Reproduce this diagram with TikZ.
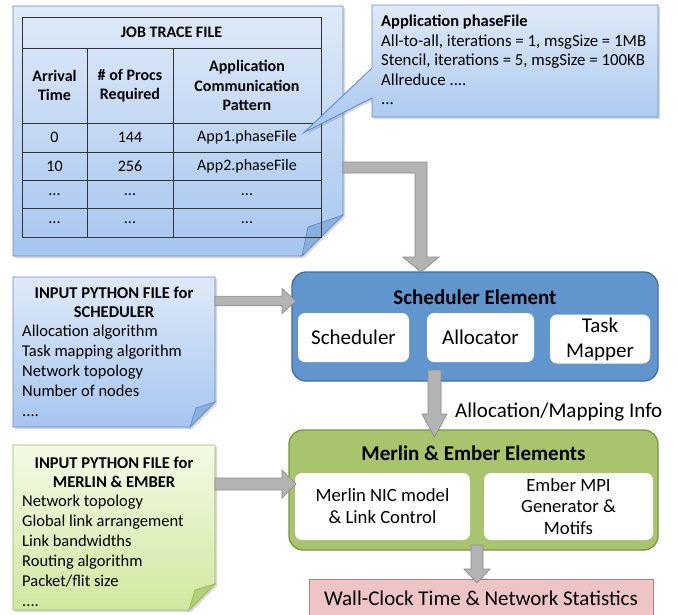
\documentclass[tikz,border=0pt]{standalone}
\usepackage{fontspec}
\setmainfont{Carlito}
\usetikzlibrary{calc,shadows}

\definecolor{noteTop}{RGB}{223,234,248}
\definecolor{noteBot}{RGB}{166,198,240}
\definecolor{noteLine}{RGB}{96,140,205}
\definecolor{noteFold}{RGB}{140,176,222}
\definecolor{gnoteTop}{RGB}{244,250,230}
\definecolor{gnoteBot}{RGB}{208,232,160}
\definecolor{gnoteLine}{RGB}{150,185,90}
\definecolor{gnoteFold}{RGB}{178,208,120}
\definecolor{schedFill}{RGB}{96,150,205}
\definecolor{schedLine}{RGB}{63,110,158}
\definecolor{merlinFill}{RGB}{168,196,108}
\definecolor{merlinLine}{RGB}{122,149,62}
\definecolor{wallFill}{RGB}{239,196,196}
\definecolor{wallLine}{RGB}{194,122,122}
\definecolor{arrowFill}{RGB}{179,179,179}
\definecolor{arrowLine}{RGB}{140,140,140}

% folded-corner note around a named placeholder node
\newcommand\foldnote[3]{%
  \path[#3] (#1.north west) -- (#1.north east) -- ($(#1.south east)+(0,-#2)$)
    -- ($(#1.south east)+(-#2,0)$) -- (#1.south west) -- cycle;}
% the turned-over flap: node, fold size, inner corner offset, style
\newcommand\foldflap[4]{%
  \filldraw[#4] ($(#1.south east)+(0,-#2)$) -- ($(#1.south east)+(#3)$)
    -- ($(#1.south east)+(-#2,0)$) -- cycle;}

% horizontal block arrow: start, tip, shaft half-width, head half-width, head length
\newcommand\blockH[5]{%
  \draw[blockarrow] let \p1=(#1), \p2=(#2) in
    (\x1,\y2+#3) -- (\x2-#5,\y2+#3) -- (\x2-#5,\y2+#4) -- (\x2,\y2)
    -- (\x2-#5,\y2-#4) -- (\x2-#5,\y2-#3) -- (\x1,\y2-#3) -- cycle;}
% vertical (downward) block arrow
\newcommand\blockV[5]{%
  \draw[blockarrow] let \p1=(#1), \p2=(#2) in
    (\x2-#3,\y1) -- (\x2+#3,\y1) -- (\x2+#3,\y2+#5) -- (\x2+#4,\y2+#5) -- (\x2,\y2)
    -- (\x2-#4,\y2+#5) -- (\x2-#3,\y2+#5) -- cycle;}

\begin{document}
\begin{tikzpicture}[x=1pt,y=-1pt,
  holder/.style={inner sep=0pt, outer sep=0pt, anchor=north west},
  bluenote/.style={draw=noteLine, line width=0.9pt, top color=noteTop, bottom color=noteBot,
    drop shadow={shadow xshift=2pt, shadow yshift=-2pt, opacity=0.25, fill=black!60}},
  greennote/.style={draw=gnoteLine, line width=0.9pt, top color=gnoteTop, bottom color=gnoteBot,
    drop shadow={shadow xshift=2pt, shadow yshift=-2pt, opacity=0.25, fill=black!60}},
  tableline/.style={draw=black!80, line width=0.9pt},
  cell/.style={inner sep=0pt, align=center, font=\fontsize{16}{19.5}\selectfont},
  hcell/.style={cell, font=\fontsize{16}{19.5}\selectfont\bfseries},
  body/.style={inner sep=0pt, align=left, anchor=north west, font=\fontsize{16.5}{20}\selectfont},
  head/.style={inner sep=0pt, align=center, font=\fontsize{16.5}{19.5}\selectfont\bfseries},
  outerbox/.style={holder, rounded corners=14pt, line width=1.3pt},
  innerbox/.style={fill=white, rounded corners=7pt, inner sep=0pt, align=center,
    font=\fontsize{21}{25}\selectfont},
  boxtitle/.style={inner sep=0pt, font=\fontsize{21}{25}\selectfont\bfseries},
  blockarrow/.style={fill=arrowFill, draw=arrowLine, line width=0.7pt, line join=miter},
]
\useasboundingbox (0,0) rectangle (678,614);

% ---------- job trace file ----------
\node[holder, minimum width=330pt, minimum height=250pt] (job) at (13,6) {};
\foldnote{job}{41}{bluenote}
\foldflap{job}{41}{-35,-29}{fill=noteFold, draw=noteLine, line width=0.7pt}

\draw[tableline] (22,17) rectangle (321,237);
\foreach \yy in {48,123,152,180,208} \draw[tableline] (22,\yy) -- (321,\yy);
\foreach \xx in {87,173} \draw[tableline] (\xx,48) -- (\xx,237);

\node[hcell] (ttitle) at (171.5,32.5) {JOB TRACE FILE};
\node[hcell] (harr) at (54.5,85.5) {Arrival\\Time};
\node[hcell] (hproc) at (130,85.5) {\# of Procs\\Required};
\node[hcell] (hpat) at (247,85.5) {Application\\Communication\\Pattern};
\node[cell] (r1a) at (54.5,137.5) {0};
\node[cell] (r1b) at (130,137.5) {144};
\node[cell] (app1) at (247,137.5) {App1.phaseFile};
\node[cell] (r2a) at (54.5,166) {10};
\node[cell] (r2b) at (130,166) {256};
\node[cell] (app2) at (247,166) {App2.phaseFile};
\node[cell] (r3a) at (54.5,195) {...};
\node[cell] (r3b) at (130,195) {...};
\node[cell] (r3c) at (247,195) {...};
\node[cell] (r4a) at (54.5,223) {...};
\node[cell] (r4b) at (130,223) {...};
\node[cell] (r4c) at (247,223) {...};

% ---------- phase file callout ----------
\node[holder, minimum width=286pt, minimum height=112pt] (phase) at (372,5) {};
\coordinate (ptip) at ($(app1.east)+(7,-5)$);
\path[bluenote] (phase.north west) -- (phase.north east) -- (phase.south east)
  -- (phase.south west) -- ($(phase.north west)+(0,93)$) -- (ptip)
  -- ($(phase.north west)+(0,63)$) -- cycle;
\node[body, font=\fontsize{16.8}{19.5}\selectfont] (phasetxt) at (381,15)
  {\fontsize{16.5}{19.5}\selectfont\textbf{Application phaseFile}\\
   All-to-all, iterations = 1, msgSize = 1MB\\
   Stencil, iterations = 5, msgSize = 100KB\\
   Allreduce ....\\
   ...};

% ---------- scheduler python input ----------
\node[holder, minimum width=202pt, minimum height=150pt] (pys) at (13,277) {};
\foldnote{pys}{25}{bluenote}
\foldflap{pys}{25}{-19,-19}{fill=noteFold, draw=noteLine, line width=0.7pt}
\node[head] (pystitle) at (114,302.5) {INPUT PYTHON FILE for\\SCHEDULER};
\node[body] (pysbody) at (22,325) {Allocation algorithm\\Task mapping algorithm\\Network topology\\Number of nodes\\....};

% ---------- merlin/ember python input ----------
\node[holder, minimum width=202pt, minimum height=165pt] (pyme) at (13,445) {};
\foldnote{pyme}{26}{greennote}
\foldflap{pyme}{26}{-20,-20}{fill=gnoteFold, draw=gnoteLine, line width=0.7pt}
\node[head] (pymetitle) at (114,472.5) {INPUT PYTHON FILE for\\MERLIN \& EMBER};
\node[body] (pymebody) at (22,495) {Network topology\\Global link arrangement\\Link bandwidths\\Routing algorithm\\Packet/flit size\\....};

% ---------- scheduler element ----------
\node[outerbox, fill=schedFill, draw=schedLine, minimum width=366pt, minimum height=109pt] (sched) at (292,272) {};
\node[boxtitle] (schedtitle) at (475,297) {Scheduler Element};
\node[innerbox, minimum width=111pt, minimum height=49pt] (scheduler) at (353.5,337.5) {Scheduler};
\node[innerbox, minimum width=107pt, minimum height=49pt] (allocator) at (480.5,337.5) {Allocator};
\node[innerbox, minimum width=100pt, minimum height=49pt] (mapper) at (600,339) {Task\\Mapper};

% ---------- merlin & ember elements ----------
\node[outerbox, fill=merlinFill, draw=merlinLine, minimum width=369pt, minimum height=120pt] (merlin) at (289,430) {};
\node[boxtitle] (merlintitle) at (473.5,453) {Merlin \& Ember Elements};
\node[innerbox, minimum width=175pt, minimum height=67pt, font=\fontsize{18.7}{22}\selectfont] (nic) at (382.5,506.5) {Merlin NIC model\\\& Link Control};
\node[innerbox, minimum width=169pt, minimum height=67pt, font=\fontsize{18.7}{21.5}\selectfont] (ember) at (568.5,506.5) {Ember MPI\\Generator \&\\Motifs};

% ---------- output ----------
\node[holder, fill=wallFill, draw=wallLine, line width=1pt, minimum width=344pt, minimum height=45pt] (wall) at (309,579) {};
\node[inner sep=0pt, font=\fontsize{21}{25}\selectfont] (walltxt) at (481,598) {Wall-Clock Time \& Network Statistics};

\node[inner sep=0pt, anchor=west, font=\fontsize{21}{25}\selectfont] (amlabel) at (455,412) {Allocation/Mapping Info};

% ---------- block arrows ----------
% job trace -> scheduler (elbow)
\coordinate (jobout) at ($(job.east)+(0,36.5)$);
\coordinate (schedin) at ($(sched.north west)+(129,0)$);
\draw[blockarrow] let \p1=(jobout), \p2=(schedin) in
  (\x1,\y1+5.5pt) -- (\x2+6pt,\y1+5.5pt) -- (\x2+6pt,\y2+15pt) -- (\x2+18pt,\y2+15pt)
  -- (\x2,\y2) -- (\x2-18pt,\y2+15pt) -- (\x2-6pt,\y2+15pt) -- (\x2-6pt,\y1-5.5pt)
  -- (\x1,\y1-5.5pt) -- cycle;
% python inputs -> elements
\blockH{pys.east}{$(sched.west)+(4,-25.5)$}{4.75pt}{12.5pt}{14pt}
\blockH{pyme.east}{$(merlin.west)+(7,-6)$}{6pt}{14pt}{14pt}
% scheduler -> merlin
\blockV{$(sched.south)+(-40.5,-11)$}{$(merlin.north)+(-39,7)$}{6.5pt}{12.5pt}{23pt}
% merlin -> output
\blockV{$(merlin.south)+(3.5,-5)$}{$(wall.north)+(-4,4)$}{6pt}{13pt}{14pt}
\end{tikzpicture}
\end{document}
